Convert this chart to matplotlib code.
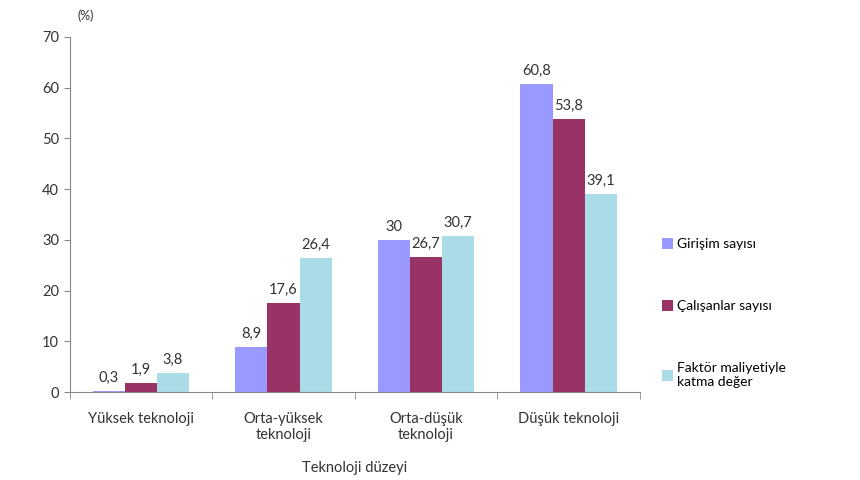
import numpy as np
import matplotlib.pyplot as plt
from matplotlib.patches import Patch

plt.rcParams['font.family'] = ['Lato', 'DejaVu Sans']

categories = ['Yüksek teknoloji', 'Orta-yüksek\nteknoloji', 'Orta-düşük\nteknoloji', 'Düşük teknoloji']
series_names = ['Girişim sayısı', 'Çalışanlar sayısı', 'Faktör maliyetiyle\nkatma değer']
girisim = [0.3, 8.9, 30, 60.8]
calisan = [1.9, 17.6, 26.7, 53.8]
katma = [3.8, 26.4, 30.7, 39.1]
labels_g = ['0,3', '8,9', '30', '60,8']
labels_c = ['1,9', '17,6', '26,7', '53,8']
labels_k = ['3,8', '26,4', '30,7', '39,1']
colors = ['#9999FF', '#993366', '#A9DCE6']

fig = plt.figure(figsize=(8.6, 4.8), dpi=100)
ax = fig.add_axes([0.081, 0.183, 0.663, 0.74])

x = np.arange(len(categories))
w = 0.225
data = [girisim, calisan, katma]
labs = [labels_g, labels_c, labels_k]
for i, (vals, lab, c) in enumerate(zip(data, labs, colors)):
    pos = x + (i - 1) * w
    ax.bar(pos, vals, w, color=c)
    for p, v, t in zip(pos, vals, lab):
        ax.text(p, v + 1.2, t, ha='center', va='bottom', fontsize=10.5, color='#333333')

ax.set_xlim(-0.5, 3.5)
ax.set_ylim(0, 70)
ax.set_yticks(range(0, 71, 10))
ax.set_xticks(x)
ax.set_xticklabels(categories, fontsize=10.5, color='#333333')
ax.set_xticks(np.arange(-0.5, 3.6, 1), minor=True)
ax.tick_params(axis='x', which='major', length=0, pad=14)
ax.tick_params(axis='x', which='minor', length=5, color='#888888')
ax.tick_params(axis='y', length=4, color='#888888', labelsize=10.5, labelcolor='#333333')
for s in ['top', 'right']:
    ax.spines[s].set_visible(False)
for s in ['left', 'bottom']:
    ax.spines[s].set_color('#888888')
ax.set_xlabel('Teknoloji düzeyi', fontsize=10.5, color='#333333', labelpad=14)
fig.text(0.1, 0.955, '(%)', fontsize=9, color='#333333', ha='center', va='bottom')

handles = [Patch(facecolor=c) for c in colors]
fig.legend(handles, series_names, loc='upper left', bbox_to_anchor=(0.755, 0.53),
           frameon=False, fontsize=10, labelspacing=3.6, handlelength=0.8,
           handleheight=0.8, handletextpad=0.3)

fig.savefig('out.png', dpi=100)
